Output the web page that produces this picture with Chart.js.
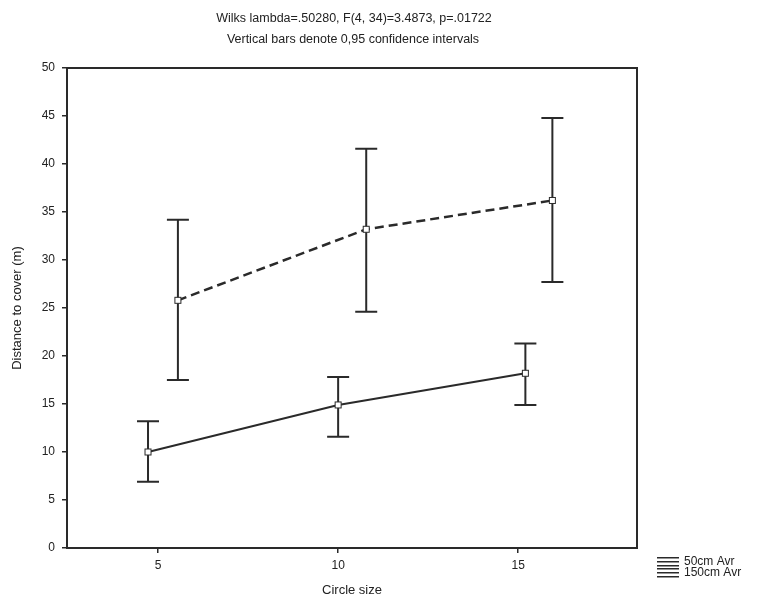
<!DOCTYPE html>
<html>
<head>
<meta charset="utf-8">
<script src="https://cdn.jsdelivr.net/npm/chart.js@4/dist/chart.umd.min.js"></script>
<style>
  html, body { margin: 0; padding: 0; background: #fff; }
  #wrap { width: 761px; height: 601px; position: relative; }
</style>
</head>
<body>
<div id="wrap"><canvas id="c"></canvas></div>
<script>
const titleLines = ['Wilks lambda=.50280, F(4, 34)=3.4873, p=.01722', 'Vertical bars denote 0,95 confidence intervals']
const seriesNames = ['50cm Avr', '150cm Avr']
const xTicks = [5, 10, 15]

// circle sizes are drawn slightly offset per group, as in the original
const x50 = [4.72, 10.0, 15.2]
const mean50 = [10.0, 14.9, 18.2]
const low50 = [6.9, 11.6, 14.9]
const high50 = [13.2, 17.8, 21.3]

const x150 = [5.55, 10.78, 15.95]
const mean150 = [25.8, 33.2, 36.2]
const low150 = [17.5, 24.6, 27.7]
const high150 = [34.2, 41.6, 44.8]

const ink = '#2a2a2a'
const font = 'Liberation Sans, Arial, sans-serif'

const pts = (xs, ys) => xs.map((x, i) => ({ x, y: ys[i] }))

const extras = {
  id: 'extras',
  afterDatasetsDraw(chart) {
    const { ctx, chartArea: a, scales: { x, y } } = chart
    ctx.save()
    // error bars
    ctx.strokeStyle = ink
    ctx.lineWidth = 2
    const bars = [[x50, low50, high50], [x150, low150, high150]]
    bars.forEach(([xs, lo, hi]) => {
      xs.forEach((xv, i) => {
        const px = x.getPixelForValue(xv)
        const yl = y.getPixelForValue(lo[i]), yh = y.getPixelForValue(hi[i])
        ctx.beginPath()
        ctx.moveTo(px, yl); ctx.lineTo(px, yh)
        ctx.moveTo(px - 11, yl); ctx.lineTo(px + 11, yl)
        ctx.moveTo(px - 11, yh); ctx.lineTo(px + 11, yh)
        ctx.stroke()
      })
    })
    // redraw point markers on top
    chart.data.datasets.forEach((ds, di) => {
      chart.getDatasetMeta(di).data.forEach(p => {
        ctx.fillStyle = '#fff'
        ctx.strokeStyle = ink
        ctx.lineWidth = 1
        ctx.fillRect(p.x - 3, p.y - 3, 6, 6)
        ctx.strokeRect(p.x - 3, p.y - 3, 6, 6)
      })
    })
    // frame
    ctx.lineWidth = 2
    ctx.strokeStyle = ink
    ctx.strokeRect(a.left, a.top, a.right - a.left, a.bottom - a.top)
    // titles
    ctx.fillStyle = '#222'
    ctx.font = '12.5px ' + font
    ctx.textAlign = 'center'
    ctx.textBaseline = 'middle'
    ctx.fillText(titleLines[0], 354, 19)
    ctx.fillText(titleLines[1], 353, 40)
    // legend
    ctx.font = '12px ' + font
    ctx.textAlign = 'left'
    seriesNames.forEach((name, i) => {
      const ly = 562 + i * 11
      ctx.fillStyle = '#222'
      ctx.fillText(name, 684, ly)
      ctx.fillStyle = ink
      for (let k = 0; k < 3; k++) ctx.fillRect(657, ly - 5 + k * 4, 22, 1.5)
    })
    ctx.restore()
  }
}

new Chart(document.getElementById('c'), {
  type: 'line',
  data: {
    datasets: [{
      label: seriesNames[0],
      data: pts(x50, mean50),
      borderColor: ink,
      borderWidth: 2,
      pointRadius: 0,
      fill: false
    }, {
      label: seriesNames[1],
      data: pts(x150, mean150),
      borderColor: ink,
      borderWidth: 2.5,
      borderDash: [9, 5],
      pointRadius: 0,
      fill: false
    }]
  },
  options: {
    responsive: true,
    maintainAspectRatio: false,
    animation: false,
    layout: { padding: { top: 68, right: 124, left: 0, bottom: 0 } },
    plugins: {
      legend: { display: false },
      tooltip: { enabled: false }
    },
    scales: {
      x: {
        type: 'linear',
        min: 2.47,
        max: 18.3,
        afterBuildTicks: s => { s.ticks = xTicks.map(v => ({ value: v })) },
        afterFit: s => { s.height = 53 },
        grid: { drawOnChartArea: false, tickLength: 5, color: ink, lineWidth: 1.5 },
        border: { display: false },
        ticks: { color: '#222', font: { family: font, size: 12 }, padding: 5 },
        title: { display: true, text: 'Circle size', color: '#222', font: { family: font, size: 13 }, padding: { top: 4, bottom: 3 } }
      },
      y: {
        min: 0,
        max: 50,
        afterFit: s => { s.width = 67 },
        grid: { drawOnChartArea: false, tickLength: 5, color: ink, lineWidth: 1.5 },
        border: { display: false },
        ticks: { stepSize: 5, color: '#222', font: { family: font, size: 12 }, padding: 7 },
        title: { display: true, text: 'Distance to cover (m)', color: '#222', font: { family: font, size: 13 }, padding: { top: 10, bottom: 0 } }
      }
    }
  },
  plugins: [extras]
})
</script>
</body>
</html>
